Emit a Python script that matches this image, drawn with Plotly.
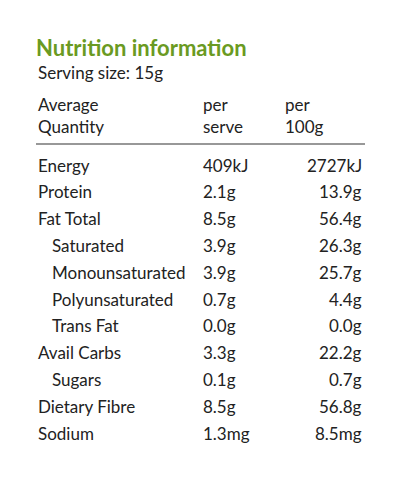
import plotly.graph_objects as go

nutrients = ["Energy", "Protein", "Fat Total", "Saturated", "Monounsaturated",
             "Polyunsaturated", "Trans Fat", "Avail Carbs", "Sugars",
             "Dietary Fibre", "Sodium"]
indented = [False, False, False, True, True, True, True, False, True, False, False]
per_serve = ["409kJ", "2.1g", "8.5g", "3.9g", "3.9g", "0.7g", "0.0g", "3.3g",
             "0.1g", "8.5g", "1.3mg"]
per_100g = ["2727kJ", "13.9g", "56.4g", "26.3g", "25.7g", "4.4g", "0.0g",
            "22.2g", "0.7g", "56.8g", "8.5mg"]

title = "Nutrition information"
serving = "Serving size: 15g"
header = [("Average<br>Quantity", 38), ("per<br>serve", 203), ("per<br>100g", 285)]

# page has ~10px offset, compensate
dx, dy = -10, -9

fig = go.Figure()
font = dict(family="Lato, Open Sans, sans-serif", size=17, color="#222222")

fig.add_annotation(x=36 + dx, y=48 + dy, text="<b>" + title + "</b>", xanchor="left",
                   yanchor="middle", showarrow=False,
                   font=dict(family="Lato, Open Sans, sans-serif", size=22, color="#6a9a22"))
fig.add_annotation(x=38 + dx, y=73 + dy, text=serving, xanchor="left", yanchor="middle",
                   showarrow=False, font=font)
for txt, x in header:
    fig.add_annotation(x=x + dx, y=116 + dy, text=txt, xanchor="left", yanchor="middle",
                       showarrow=False, font=font, align="left")

fig.add_shape(type="line", x0=38 + dx, x1=367 + dx, y0=145 + dy, y1=145 + dy,
              line=dict(color="#333333", width=1.2))

row_h = 26.8
for i, name in enumerate(nutrients):
    y = 166 + i * row_h + dy
    fig.add_annotation(x=(52 if indented[i] else 38) + dx, y=y, text=name, xanchor="left",
                       yanchor="middle", showarrow=False, font=font)
    fig.add_annotation(x=203 + dx, y=y, text=per_serve[i], xanchor="left",
                       yanchor="middle", showarrow=False, font=font)
    fig.add_annotation(x=366 + dx, y=y, text=per_100g[i], xanchor="right",
                       yanchor="middle", showarrow=False, font=font)

fig.update_layout(
    width=406, height=480, margin=dict(l=0, r=0, t=0, b=0),
    plot_bgcolor="white", paper_bgcolor="white",
    xaxis=dict(range=[0, 406], visible=False),
    yaxis=dict(range=[480, 0], visible=False),
)
fig.write_html("out.html")
